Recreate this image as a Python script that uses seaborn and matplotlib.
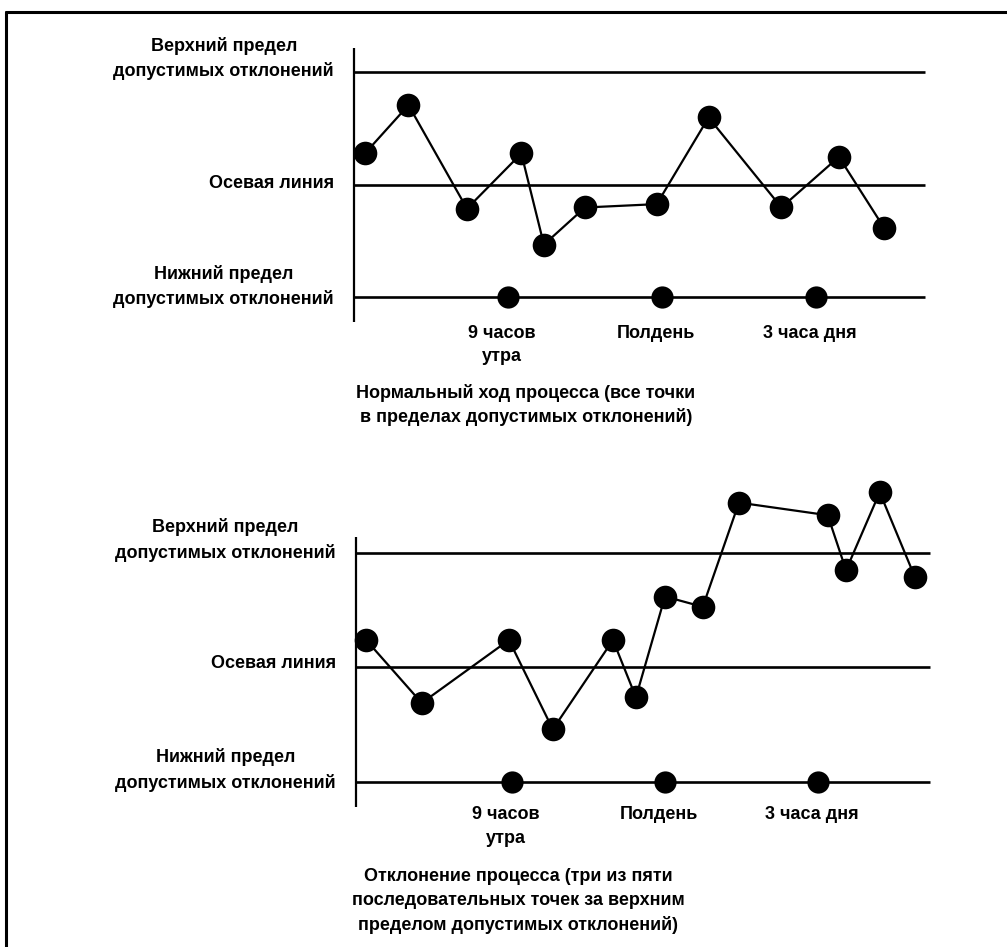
import matplotlib
matplotlib.use('Agg')
import matplotlib.pyplot as plt
from matplotlib.lines import Line2D
import seaborn as sns
import pandas as pd


# Two control charts: normal process and a drifting one


# control limits (in sigma-ish units, centre line at 0)
UCL = 1.0
CL = 0.0
LCL = -1.0

# time of day (hours) for the clock markers and their captions
mark_hours = [9, 12, 15]
mark_labels = ['9 часов\nутра', 'Полдень', '3 часа дня']

# chart 1: all points inside limits
top_hours = [6.21, 7.06, 8.20, 9.26, 9.70, 10.50, 11.90, 12.91, 14.33, 15.45, 16.33]
top_vals = [0.28, 0.71, -0.21, 0.28, -0.53, -0.20, -0.17, 0.60, -0.20, 0.25, -0.38]

# chart 2: process drifts above upper limit
bot_hours = [6.14, 7.23, 8.94, 9.80, 10.98, 11.43, 12.00, 12.74, 13.45, 15.19, 15.55, 16.21, 16.90]
bot_vals = [0.24, -0.31, 0.24, -0.54, 0.24, -0.26, 0.62, 0.53, 1.44, 1.33, 0.85, 1.53, 0.79]

upper_label = 'Верхний предел\nдопустимых отклонений'
center_label = 'Осевая линия'
lower_label = 'Нижний предел\nдопустимых отклонений'
top_caption = 'Нормальный ход процесса (все точки\nв пределах допустимых отклонений)'
bot_caption = ('Отклонение процесса (три из пяти\nпоследовательных точек за верхним\n'
               'пределом допустимых отклонений)')

W, H = 1007, 947
FS = 13
LS = 1.52

sns.set_theme(style='white')
plt.rcParams['font.family'] = ['Liberation Sans', 'DejaVu Sans']
plt.rcParams['font.weight'] = 'bold'
plt.rcParams['text.color'] = 'black'


def chart(fig, hours, vals, lay, caption):
    x9, ppx, yc, ppu = lay['x9'], lay['ppx'], lay['yc'], lay['ppu']
    xlim = (5.0, 18.0)
    ylim = (-1.45, 1.6)
    left = x9 + (xlim[0] - 9) * ppx
    right = x9 + (xlim[1] - 9) * ppx
    top = yc - ylim[1] * ppu
    bottom = yc - ylim[0] * ppu
    ax = fig.add_axes([left / W, 1 - bottom / H, (right - left) / W, (bottom - top) / H])
    ax.set_xlim(xlim)
    ax.set_ylim(ylim)
    ax.axis('off')

    x0, x1 = lay['axis_x'], lay['line_end']
    ax.vlines(x0, lay['axis_lo'], lay['axis_hi'], color='black', lw=1.6)
    ax.hlines([UCL, CL, LCL], x0, x1, color='black', lw=1.9)

    data = pd.DataFrame({'hour': hours, 'val': vals})
    sns.lineplot(data=data, x='hour', y='val', ax=ax, color='black', lw=1.6,
                 marker='o', markersize=17, markeredgewidth=0, sort=False,
                 estimator=None, clip_on=False)

    ax.plot(mark_hours, [LCL] * len(mark_hours), 'o', color='black',
            markersize=16, markeredgewidth=0, clip_on=False)

    for h, lab in zip(mark_hours, mark_labels):
        ax.annotate(lab, xy=(h, LCL), xytext=(-6, lay['tick_dy']),
                    textcoords='offset pixels', ha='center', va='top',
                    fontsize=FS, linespacing=LS)

    for lev, lab, dy in zip([UCL, CL, LCL], [upper_label, center_label, lower_label],
                            lay['lab_dy']):
        ax.annotate(lab, xy=(x0, lev), xytext=(-20, dy), textcoords='offset pixels',
                    ha='right', va='center', multialignment='center',
                    fontsize=FS, linespacing=LS)

    fig.text(lay['cap_x'] / W, 1 - lay['cap_y'] / H, caption, ha='center', va='center',
             multialignment='center', fontsize=FS, linespacing=lay['cap_ls'])
    return ax


fig = plt.figure(figsize=(W / 100, H / 100), dpi=100)

top_lay = dict(x9=508, ppx=51.3, yc=185, ppu=112.5, axis_x=6.0, line_end=17.13,
               axis_lo=-1.22, axis_hi=1.22, tick_dy=-27, lab_dy=[14, 2, 11],
               cap_x=526, cap_y=405, cap_ls=1.4)
bot_lay = dict(x9=512, ppx=51.0, yc=667.5, ppu=114.5, axis_x=5.94, line_end=17.2,
               axis_lo=-1.22, axis_hi=1.14, tick_dy=-24, lab_dy=[13, 4, 12],
               cap_x=518, cap_y=901, cap_ls=LS)

chart(fig, top_hours, top_vals, top_lay, top_caption)
chart(fig, bot_hours, bot_vals, bot_lay, bot_caption)

# frame: only top and left edges are visible in the scan
fig.add_artist(Line2D([6 / W, 1.0], [1 - 12 / H, 1 - 12 / H], color='black', lw=2.2))
fig.add_artist(Line2D([6 / W, 6 / W], [0.0, 1 - 12 / H], color='black', lw=2.2))

fig.savefig('out.png', dpi=100, facecolor='white')
